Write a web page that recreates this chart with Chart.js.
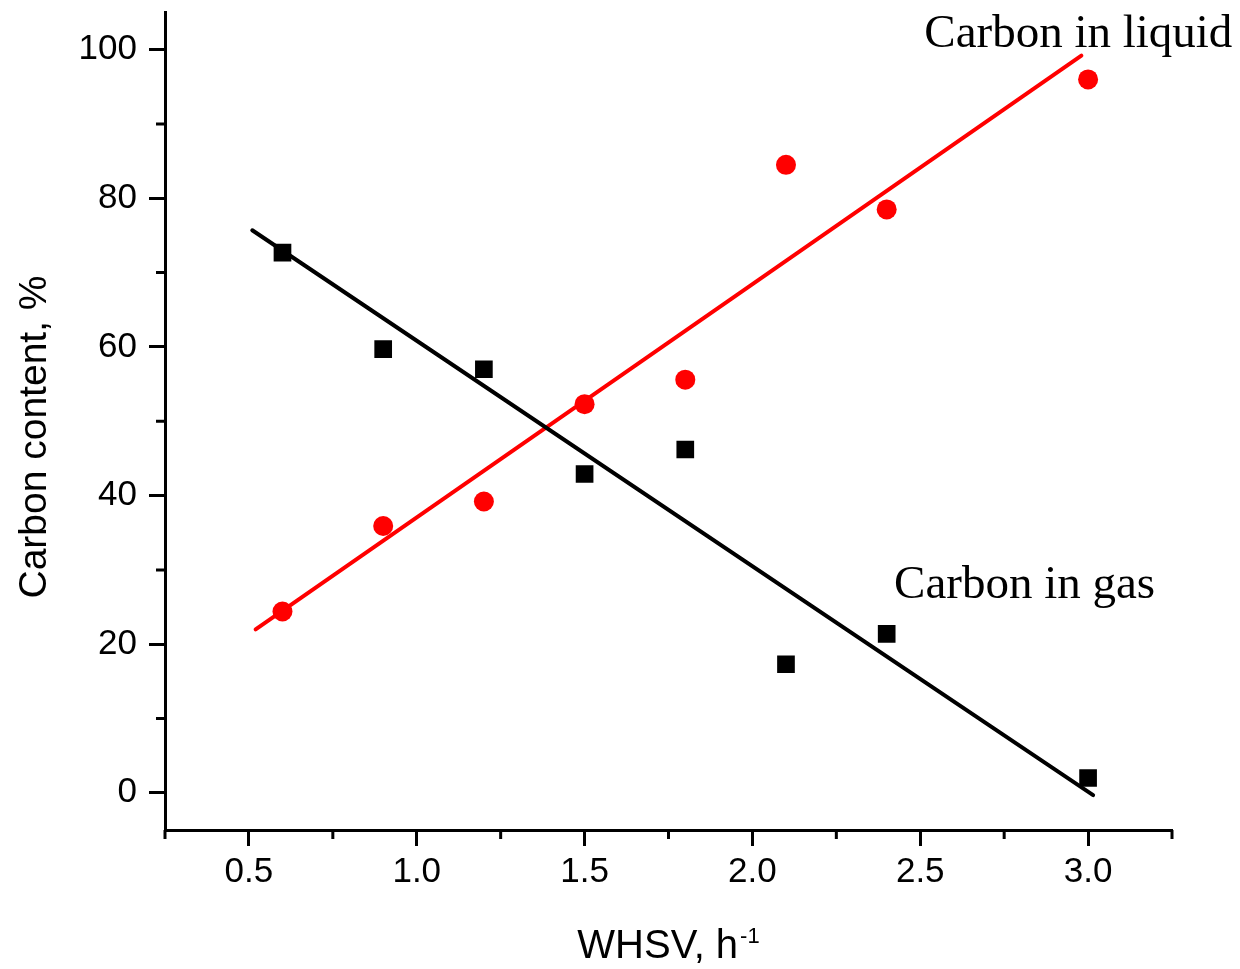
<!DOCTYPE html>
<html>
<head>
<meta charset="utf-8">
<script src="https://cdn.jsdelivr.net/npm/chart.js@4.4.0/dist/chart.umd.min.js"></script>
<style>
  html, body { margin: 0; padding: 0; background: #fff; }
  #wrap { width: 1240px; height: 969px; }
</style>
</head>
<body>
<div id="wrap"><canvas id="chart" width="1240" height="969"></canvas></div>
<script>
// measured points
const whsv = [0.6, 0.9, 1.2, 1.5, 1.8, 2.1, 2.4, 3.0];
const carbonGas = [72.7, 59.7, 57.0, 42.9, 46.2, 17.3, 21.4, 2.0];
const carbonLiquid = [24.4, 35.9, 39.2, 52.3, 55.6, 84.5, 78.5, 96.0];

// linear fit end points
const gasFitX = [0.51, 3.015];
const gasFitY = [75.7, -0.3];
const liquidFitX = [0.52, 2.98];
const liquidFitY = [22.0, 99.2];

const xTicks = [0.5, 1.0, 1.5, 2.0, 2.5, 3.0];
const xMinorTicks = [0.25, 0.75, 1.25, 1.75, 2.25, 2.75, 3.25];
const yTicks = [0, 20, 40, 60, 80, 100];
const yMinorTicks = [10, 30, 50, 70, 90];

const notes = ['Carbon in liquid', 'Carbon in gas'];
const noteX = [2.512, 2.422];
const noteY = [100.3, 26.2];

const toPoints = (xs, ys) => xs.map((v, i) => ({ x: v, y: ys[i] }));

const sans = '"Liberation Sans", Arial, sans-serif';

const extras = {
    id: 'extras',
    afterDraw(chart) {
        const { ctx, chartArea, scales: { x, y } } = chart;
        ctx.save();

        // minor ticks
        ctx.strokeStyle = '#000';
        ctx.lineWidth = 3;
        ctx.beginPath();
        xMinorTicks.forEach(v => {
            const px = x.getPixelForValue(v);
            ctx.moveTo(px, chartArea.bottom);
            ctx.lineTo(px, chartArea.bottom + 9);
        });
        yMinorTicks.forEach(v => {
            const py = y.getPixelForValue(v);
            ctx.moveTo(chartArea.left, py);
            ctx.lineTo(chartArea.left - 9, py);
        });
        ctx.stroke();

        ctx.fillStyle = '#000';

        // x title with superscript
        ctx.font = '40px ' + sans;
        const main = 'WHSV, h';
        const mainW = ctx.measureText(main).width;
        ctx.font = '22px ' + sans;
        const sup = '-1';
        const supW = ctx.measureText(sup).width;
        const cx = (chartArea.left + chartArea.right) / 2;
        const startX = cx - (mainW + supW + 2) / 2;
        ctx.textAlign = 'left';
        ctx.textBaseline = 'alphabetic';
        ctx.font = '40px ' + sans;
        ctx.fillText(main, startX, 958);
        ctx.font = '22px ' + sans;
        ctx.fillText(sup, startX + mainW + 2, 943);

        // y title
        ctx.save();
        ctx.translate(46, 437);
        ctx.rotate(-Math.PI / 2);
        ctx.textAlign = 'center';
        ctx.font = '39px ' + sans;
        ctx.fillText('Carbon content, %', 0, 0);
        ctx.restore();

        // annotations
        ctx.font = '47px "Liberation Serif", "Times New Roman", serif';
        ctx.textAlign = 'left';
        notes.forEach((t, i) => {
            ctx.fillText(t, x.getPixelForValue(noteX[i]), y.getPixelForValue(noteY[i]));
        });

        ctx.restore();
    }
};

const axisGrid = {
    drawOnChartArea: false,
    drawTicks: true,
    tickLength: 16,
    tickWidth: 3,
    tickColor: '#000'
};

new Chart(document.getElementById('chart'), {
    type: 'scatter',
    data: {
        datasets: [
            {
                data: toPoints(gasFitX, gasFitY),
                showLine: true,
                borderColor: '#000',
                borderWidth: 4,
                borderCapStyle: 'round',
                pointRadius: 0
            },
            {
                data: toPoints(liquidFitX, liquidFitY),
                showLine: true,
                borderColor: '#ff0000',
                borderWidth: 4,
                borderCapStyle: 'round',
                pointRadius: 0
            },
            {
                data: toPoints(whsv, carbonGas),
                pointStyle: 'rect',
                pointRadius: 12.5,
                backgroundColor: '#000',
                borderWidth: 0
            },
            {
                data: toPoints(whsv, carbonLiquid),
                pointStyle: 'circle',
                pointRadius: 10,
                backgroundColor: '#ff0000',
                borderWidth: 0
            }
        ]
    },
    options: {
        responsive: false,
        animation: false,
        devicePixelRatio: 1,
        layout: { padding: { top: 11, right: 68, left: 0, bottom: 0 } },
        plugins: {
            legend: { display: false },
            tooltip: { enabled: false }
        },
        scales: {
            x: {
                type: 'linear',
                min: 0.25,
                max: 3.25,
                afterBuildTicks: s => { s.ticks = xTicks.map(v => ({ value: v })); },
                afterFit: s => { s.height = 139; s.paddingLeft = 0; s.paddingRight = 0; },
                grid: axisGrid,
                border: { color: '#000', width: 3 },
                ticks: {
                    color: '#000',
                    padding: 5,
                    maxRotation: 0,
                    font: { family: sans, size: 35 },
                    callback: v => v.toFixed(1)
                }
            },
            y: {
                type: 'linear',
                min: -5,
                max: 105,
                afterBuildTicks: s => { s.ticks = yTicks.map(v => ({ value: v })); },
                afterFit: s => { s.width = 165; s.paddingTop = 0; s.paddingBottom = 0; },
                grid: axisGrid,
                border: { color: '#000', width: 3 },
                ticks: {
                    color: '#000',
                    padding: 12,
                    font: { family: sans, size: 35 },
                    callback: v => String(v)
                }
            }
        }
    },
    plugins: [extras]
});
</script>
</body>
</html>
